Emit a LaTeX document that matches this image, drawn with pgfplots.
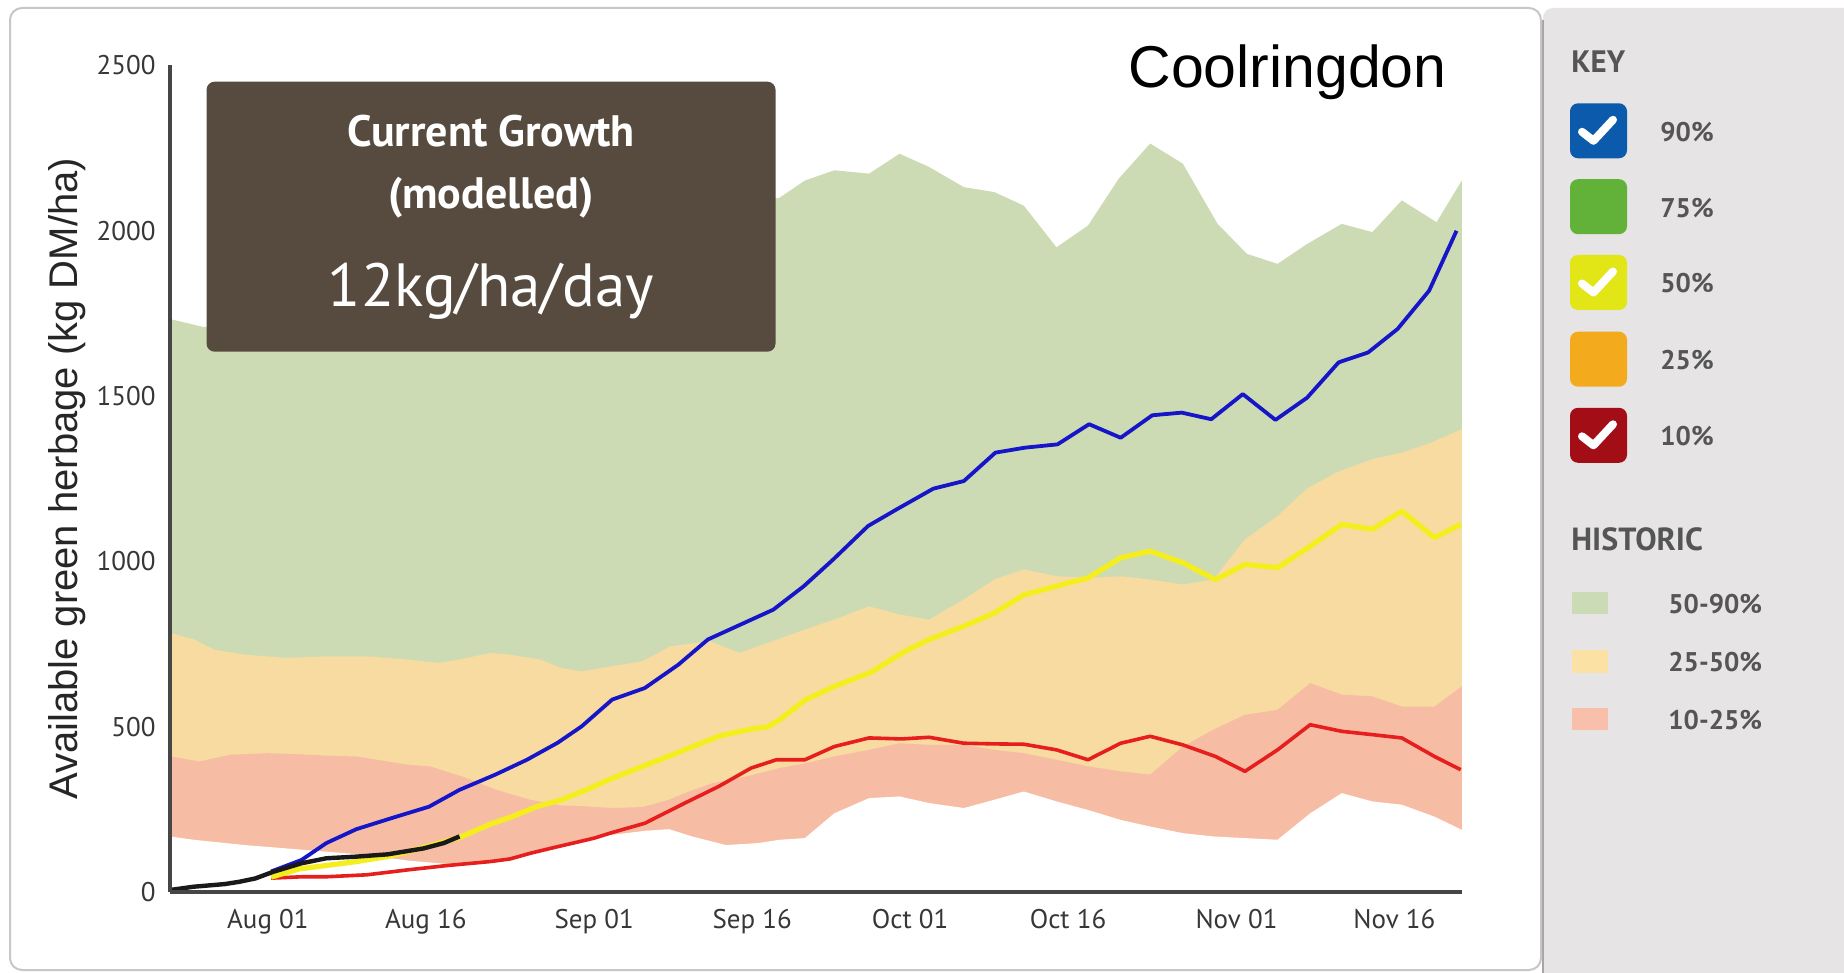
\documentclass[border=0pt]{standalone}
\usepackage{pgfplots}
\pgfplotsset{compat=1.18}
\usepackage{fontspec}
\newfontfamily\ptsans{PT Sans}
\newfontfamily\libsans{Liberation Sans}
\definecolor{bandgreen}{RGB}{205,219,181}
\definecolor{bandorange}{RGB}{248,219,160}
\definecolor{bandpink}{RGB}{246,189,164}
\definecolor{lblue}{RGB}{22,22,200}
\definecolor{lyellow}{RGB}{245,238,30}
\definecolor{lred}{RGB}{230,30,30}
\definecolor{boxbrown}{RGB}{87,74,62}
\definecolor{axgray}{RGB}{70,70,70}
\definecolor{tickgray}{RGB}{55,55,55}
\definecolor{legbg}{RGB}{230,228,228}
\definecolor{leggray}{RGB}{85,85,85}
\definecolor{kblue}{RGB}{12,90,172}
\definecolor{kgreen}{RGB}{98,178,58}
\definecolor{kyellow}{RGB}{226,230,22}
\definecolor{korange}{RGB}{243,170,28}
\definecolor{kred}{RGB}{163,14,22}
\definecolor{hgreen}{RGB}{203,219,181}
\definecolor{hyellow}{RGB}{252,225,165}
\definecolor{hpink}{RGB}{248,192,170}
\begin{document}
\begin{tikzpicture}
\begin{scope}[x=0.5pt,y=-0.5pt]
\useasboundingbox (0,0) rectangle (1844,973);
\fill[white] (0,0) rectangle (1844,973);
\fill[legbg, rounded corners=5pt] (1543,8) rectangle (1870,1000);
\draw[black!35, line width=1pt] (1543,20) -- (1543,973);
\filldraw[fill=white, draw=black!22, line width=1pt, rounded corners=6pt] (10,8) rectangle (1541,970);
\end{scope}

\begin{axis}[
  at={(85pt,-446pt)}, anchor=south west,
  scale only axis, width=645.9pt, height=413.25pt,
  xmin=-9.3, xmax=113.4, ymin=0, ymax=2500,
  axis x line=bottom, axis y line=left,
  axis on top,
  axis line style={-, axgray, line width=2pt},
  xtick={0,15,31,46,61,76,92,107},
  xticklabels={Aug 01,Aug 16,Sep 01,Sep 16,Oct 01,Oct 16,Nov 01,Nov 16},
  ytick={0,500,1000,1500,2000,2500},
  yticklabels={0,500,1000,1500,2000,2500},
  major tick length=0pt,
  tick label style={font=\ptsans\fontsize{13.5}{16}\selectfont, text=tickgray, inner sep=0pt},
  xticklabel style={anchor=base, yshift=-18pt},
  yticklabel style={anchor=east, xshift=-7pt},
  ylabel={Available green herbage (kg DM/ha)},
  ylabel style={font=\libsans\fontsize{20}{24}\selectfont, text=black!85, at={(axis description cs:-0.0797,0.5)}, anchor=center},
  clip=true,
]
% historic 50-90% (top = 90%)
\addplot[fill=bandgreen, draw=none] coordinates {
(-9.3,1733) (-6.1,1709) (-3,1715) (0,1740) (5,1790) (10,1850) (15,1900) (20,1950) (25,1990) (30,2020) (35,2045) (40,2065) (45,2080) (48.6,2100) (51.0,2152) (53.8,2183) (57.1,2173) (60.0,2233) (62.8,2193) (66.1,2132) (69.0,2117) (71.8,2076) (74.9,1950) (77.9,2016) (80.8,2157) (83.8,2264) (86.9,2203) (90.2,2021) (93.0,1930) (95.9,1900) (98.7,1960) (102.0,2021) (104.9,1996) (107.7,2092) (111.0,2026) (113.4,2152)
} \closedcycle;
% historic 25-50% (top = 50%)
\addplot[fill=bandorange, draw=none] coordinates {
(-9.3,784) (-7.05,764) (-5.1,733) (-2.2,718) (1.67,708) (5.55,713) (9.4,713) (13.3,703) (16.2,693) (18.2,703) (21.1,723) (23.0,718) (25.9,703) (27.8,678) (29.8,667) (32.7,683) (35.6,698) (38.2,743) (42.0,758) (44.8,723) (49.3,774) (51.0,794) (53.8,824) (57.1,864) (60.0,839) (62.8,824) (66.1,885) (69.0,945) (71.8,976) (74.9,955) (77.9,950) (81.0,955) (83.8,945) (86.9,930) (89.8,945) (92.8,1066) (95.9,1137) (98.7,1220) (101.5,1269) (104.9,1309) (107.7,1329) (110.5,1359) (113.4,1400)
} \closedcycle;
% historic 10-25% (top = 25%)
\addplot[fill=bandpink, draw=none] coordinates {
(-9.3,410) (-6.5,395) (-3.6,415) (0,420) (2,418) (6,412) (8.4,410) (13.3,385) (15.4,380) (18.5,349) (21.7,309) (24.9,279) (27.8,262) (29.6,260) (32.7,254) (35.6,257) (36.4,264) (38.1,279) (39.6,299) (42.2,329) (45.4,349) (48.6,375) (51.0,389) (53.8,410) (57.1,430) (60.0,450) (62.8,445) (66.1,445) (69.0,430) (71.8,420) (74.9,400) (77.9,380) (81.0,365) (83.8,355) (86.9,440) (89.8,491) (92.8,536) (95.9,551) (99.0,632) (102.0,597) (104.9,592) (107.7,561) (110.8,561) (113.4,622)
} \closedcycle;
% below 10%
\addplot[fill=white, draw=none] coordinates {
(-9.3,168) (-7.05,158) (-2.2,142) (1.67,132) (5.55,122) (9.4,112) (13.3,95) (17,85) (21,88) (25,115) (29,150) (32.0,170) (35.8,185) (38.1,190) (40.3,168) (43.5,142) (46.6,148) (48.6,158) (51.0,163) (53.8,238) (57.1,284) (60.0,289) (62.8,269) (66.1,254) (69.0,279) (71.8,304) (74.9,274) (77.9,248) (81.0,218) (83.8,198) (86.9,178) (89.8,168) (92.8,163) (95.9,158) (99.0,238) (102.0,299) (104.9,274) (107.7,264) (110.8,228) (113.4,188)
} \closedcycle;
% current 10%
\addplot[lred, line width=1.8pt, line join=round] coordinates {
(0.3,42) (3.2,46) (5.5,46) (9.4,52) (13.3,67) (17.0,80) (21.1,92) (23.0,100) (24.9,117) (27.5,137) (29.0,148) (31.0,163) (32.7,180) (35.8,208) (39.6,269) (42.8,319) (45.9,375) (48.3,400) (51.0,400) (53.8,440) (57.1,466) (60.2,463) (62.8,468) (66.1,450) (69.0,448) (71.8,447) (74.9,430) (77.9,400) (81.0,450) (83.8,471) (86.9,445) (90.0,410) (92.8,365) (95.9,430) (99.0,506) (102.0,486) (104.9,476) (107.7,466) (110.8,410) (113.3,370)
};
% current 50%
\addplot[lyellow, line width=2.6pt, line join=round] coordinates {
(0.3,45) (3.0,70) (5.5,80) (8.4,92) (11.5,108) (14.5,132) (18.2,165) (21.1,205) (23.2,228) (25.5,258) (27.9,279) (30.3,310) (32.7,344) (36.4,390) (39.6,430) (42.8,471) (45.6,491) (47.5,500) (48.6,521) (51.1,582) (53.8,622) (57.3,665) (60.5,728) (62.8,764) (66.1,804) (69.0,844) (71.8,899) (74.9,925) (77.9,950) (81.0,1011) (83.8,1031) (86.9,996) (90.0,945) (92.8,991) (95.9,981) (99.0,1046) (102.0,1112) (104.9,1097) (107.7,1152) (110.8,1072) (113.3,1112)
};
% current 90%
\addplot[lblue, line width=1.9pt, line join=round] coordinates {
(0.3,62) (3.2,97) (5.55,148) (8.4,190) (11.9,225) (15.3,258) (18.2,309) (21.6,355) (24.6,400) (27.5,451) (29.8,501) (32.7,582) (35.8,617) (39.0,688) (41.8,764) (44.9,809) (48.0,854) (50.9,925) (53.7,1006) (57.0,1107) (59.7,1157) (63.2,1220) (66.1,1243) (69.1,1329) (71.9,1344) (75.0,1354) (78.0,1415) (81.0,1374) (84.0,1442) (86.8,1450) (89.6,1430) (92.6,1506) (95.7,1428) (98.7,1495) (101.7,1602) (104.5,1632) (107.3,1703) (110.3,1819) (112.9,2000)
};
% actual
\addplot[black!90, line width=2.2pt, line join=round] coordinates {
(-9.3,6) (-7.05,16) (-4.1,24) (-2.7,31) (-1.2,41) (0.5,61) (3.2,87) (5.55,102) (8.4,107) (11.4,114) (14.8,132) (16.7,148) (18.2,168)
};
\end{axis}

\begin{scope}[x=0.5pt,y=-0.5pt]
% info box
\fill[boxbrown, rounded corners=4pt] (206.6,81.7) rectangle (775.5,351.7);
\node[anchor=base, inner sep=0, text=white, font=\ptsans\bfseries\fontsize{22}{25}\selectfont] at (491,146.7) {Current Growth};
\node[anchor=base, inner sep=0, text=white, font=\ptsans\bfseries\fontsize{22}{25}\selectfont] at (491,208.3) {(modelled)};
\node[anchor=base, inner sep=0, text=white, font=\ptsans\fontsize{30.5}{33}\selectfont] at (491,306.7) {12kg/ha/day};
% title
\node[anchor=base east, inner sep=0, font=\libsans\fontsize{29.5}{32}\selectfont] at (1447,88) {Coolringdon};
% legend
\node[anchor=base west, inner sep=0, text=leggray, font=\ptsans\bfseries\fontsize{15.5}{18}\selectfont] at (1571,73) {KEY};
\foreach \c/\cy/\lab/\chk in {kblue/130.8/90/1, kgreen/206.7/75/0, kyellow/282.5/50/1, korange/359.2/25/0, kred/435.3/10/1}{
  \fill[\c, rounded corners=4pt] (1570,\cy-27.5) rectangle (1627,\cy+27.5);
  \ifnum\chk=1
    \draw[white, line width=4pt, line cap=round, line join=round] (1582,\cy+1) -- (1593.5,\cy+10) -- (1613,\cy-11);
  \fi
  \node[anchor=base west, inner sep=0, text=leggray, font=\ptsans\bfseries\fontsize{13.5}{16}\selectfont] at (1660,\cy+10.5) {\lab\%};
}
\node[anchor=base west, inner sep=0, text=leggray, font=\ptsans\bfseries\fontsize{16}{19}\selectfont] at (1571,550) {HISTORIC};
\fill[hgreen] (1572,591.5) rectangle (1608,614);
\fill[hyellow] (1572,650) rectangle (1608,673);
\fill[hpink] (1572,708) rectangle (1608,730);
\node[anchor=west, inner sep=0, text=leggray, font=\ptsans\bfseries\fontsize{13.5}{16}\selectfont] at (1668,604.5) {50-90\%};
\node[anchor=west, inner sep=0, text=leggray, font=\ptsans\bfseries\fontsize{13.5}{16}\selectfont] at (1668,662) {25-50\%};
\node[anchor=west, inner sep=0, text=leggray, font=\ptsans\bfseries\fontsize{13.5}{16}\selectfont] at (1668,720.5) {10-25\%};
\end{scope}
\end{tikzpicture}
\end{document}
